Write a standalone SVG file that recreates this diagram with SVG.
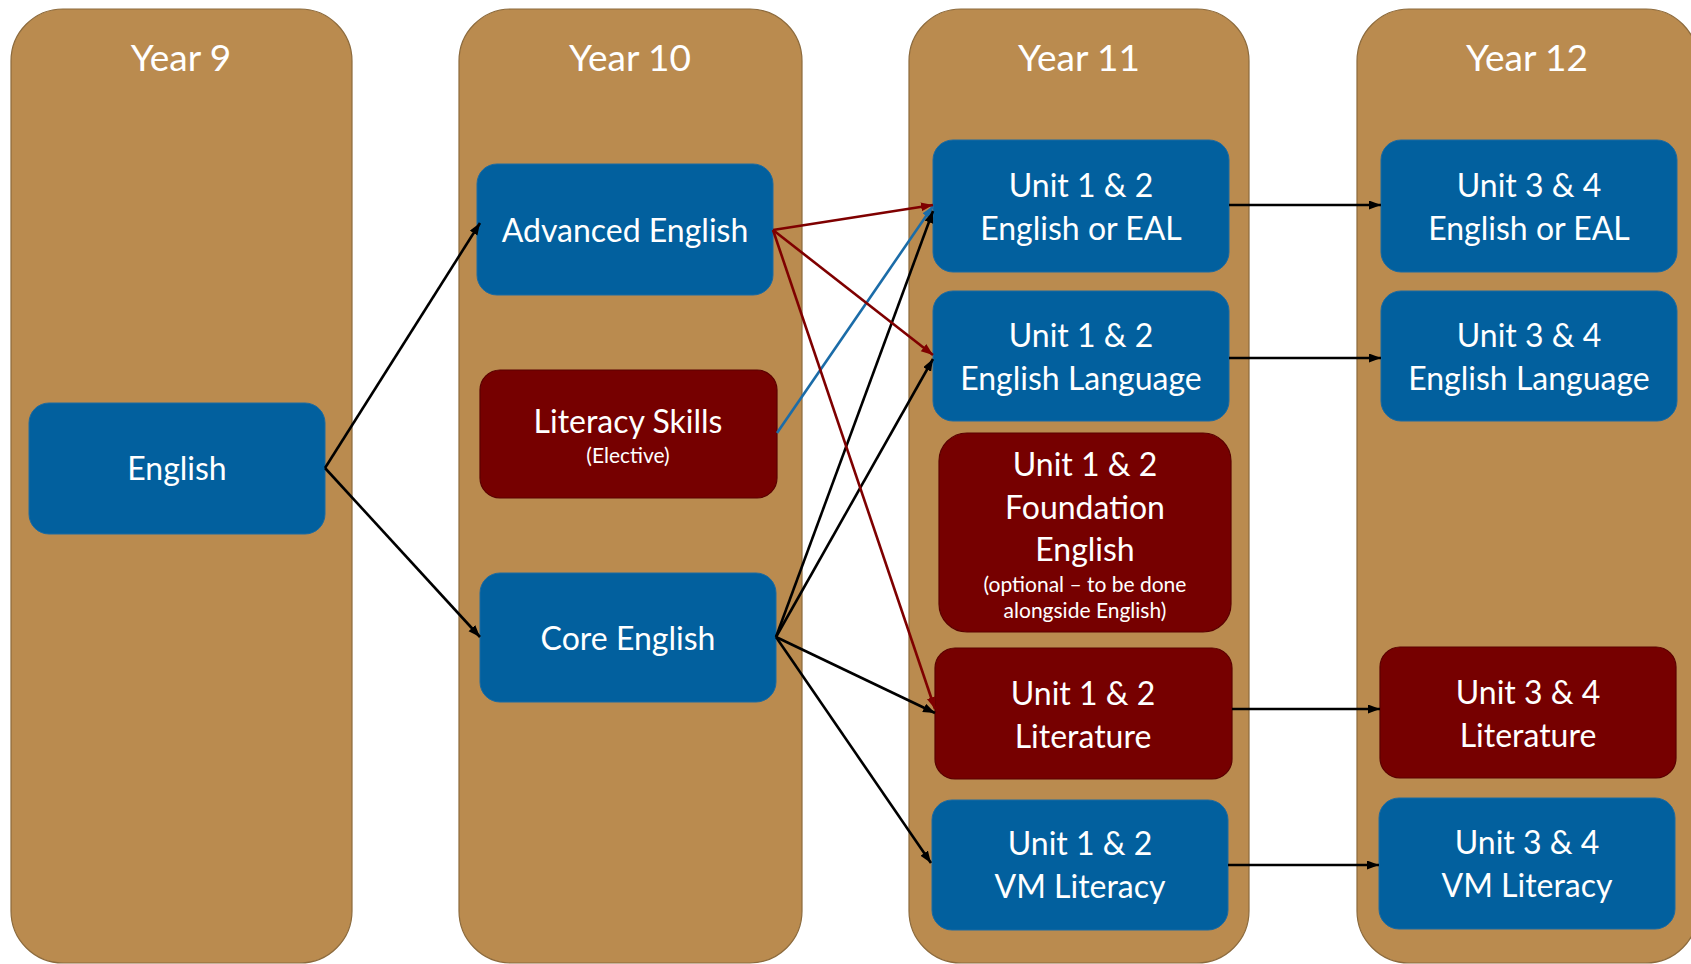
<svg xmlns="http://www.w3.org/2000/svg" width="1691" height="964" viewBox="0 0 1691 964">
<defs>
<style>
.col{fill:#BA8B4F;stroke:#8C6A3C;stroke-width:1.2}
.blue{fill:#02609E;stroke:#1A6AA3;stroke-width:1}
.red{fill:#760000;stroke:#5A0000;stroke-width:1.2}
.yr{font-family:Lato,"Liberation Sans",sans-serif;font-size:37px;fill:#fff;text-anchor:middle}
.t{font-family:Lato,"Liberation Sans",sans-serif;font-size:32px;fill:#fff;text-anchor:middle}
.s{font-family:Lato,"Liberation Sans",sans-serif;font-size:21px;fill:#fff;text-anchor:middle}
.k{stroke:#000;stroke-width:2.6;fill:none}
.r{stroke:#7F0000;stroke-width:2.6;fill:none}
.b{stroke:#1B6CA8;stroke-width:2.6;fill:none}
</style>
<marker id="ak" markerUnits="userSpaceOnUse" markerWidth="13" markerHeight="10" refX="12" refY="4.5" orient="auto"><path d="M0,0 L12,4.5 L0,9 z" fill="#000"/></marker>
<marker id="ar" markerUnits="userSpaceOnUse" markerWidth="13" markerHeight="10" refX="12" refY="4.5" orient="auto"><path d="M0,0 L12,4.5 L0,9 z" fill="#7F0000"/></marker>
<marker id="ab" markerUnits="userSpaceOnUse" markerWidth="13" markerHeight="10" refX="12" refY="4.5" orient="auto"><path d="M0,0 L12,4.5 L0,9 z" fill="#1B6CA8"/></marker>
</defs>

<g id="col-year9"><rect class="col" x="11" y="9" width="341" height="954" rx="52"/><text class="yr" x="181" y="71">Year 9</text></g>
<g id="col-year10"><rect class="col" x="459" y="9" width="343" height="954" rx="52"/><text class="yr" x="630" y="71">Year 10</text></g>
<g id="col-year11"><rect class="col" x="909" y="9" width="340" height="954" rx="52"/><text class="yr" x="1079" y="71">Year 11</text></g>
<g id="col-year12"><rect class="col" x="1357" y="9" width="341" height="954" rx="52"/><text class="yr" x="1527" y="71">Year 12</text></g>

<g id="n-english"><rect class="blue" x="29" y="403" width="296" height="131" rx="20"/><text class="t" x="177" y="480">English</text></g>
<g id="n-advanced"><rect class="blue" x="477" y="164" width="296" height="131" rx="20"/><text class="t" x="625" y="242">Advanced English</text></g>
<g id="n-literacy"><rect class="red" x="480" y="370" width="297" height="128" rx="20"/><text class="t" x="628" y="433">Literacy Skills</text><text class="s" x="628" y="463">(Elective)</text></g>
<g id="n-core"><rect class="blue" x="480" y="573" width="296" height="129" rx="20"/><text class="t" x="628" y="650">Core English</text></g>

<g id="n-u12-eal"><rect class="blue" x="933" y="140" width="296" height="132" rx="20"/><text class="t" x="1081" y="197">Unit 1 &amp; 2</text><text class="t" x="1081" y="240">English or EAL</text></g>
<g id="n-u12-lang"><rect class="blue" x="933" y="291" width="296" height="130" rx="20"/><text class="t" x="1081" y="347">Unit 1 &amp; 2</text><text class="t" x="1081" y="390">English Language</text></g>
<g id="n-u12-found"><rect class="red" x="939" y="433" width="292" height="199" rx="28"/><text class="t" x="1085" y="476">Unit 1 &amp; 2</text><text class="t" x="1085" y="519">Foundation</text><text class="t" x="1085" y="561">English</text><text class="s" x="1085" y="592">(optional – to be done</text><text class="s" x="1085" y="618">alongside English)</text></g>
<g id="n-u12-lit"><rect class="red" x="935" y="648" width="297" height="131" rx="20"/><text class="t" x="1083" y="705">Unit 1 &amp; 2</text><text class="t" x="1083" y="748">Literature</text></g>
<g id="n-u12-vm"><rect class="blue" x="932" y="800" width="296" height="130" rx="20"/><text class="t" x="1080" y="855">Unit 1 &amp; 2</text><text class="t" x="1080" y="898">VM Literacy</text></g>

<g id="n-u34-eal"><rect class="blue" x="1381" y="140" width="296" height="132" rx="20"/><text class="t" x="1529" y="197">Unit 3 &amp; 4</text><text class="t" x="1529" y="240">English or EAL</text></g>
<g id="n-u34-lang"><rect class="blue" x="1381" y="291" width="296" height="130" rx="20"/><text class="t" x="1529" y="347">Unit 3 &amp; 4</text><text class="t" x="1529" y="390">English Language</text></g>
<g id="n-u34-lit"><rect class="red" x="1380" y="647" width="296" height="131" rx="20"/><text class="t" x="1528" y="704">Unit 3 &amp; 4</text><text class="t" x="1528" y="747">Literature</text></g>
<g id="n-u34-vm"><rect class="blue" x="1379" y="798" width="296" height="131" rx="20"/><text class="t" x="1527" y="854">Unit 3 &amp; 4</text><text class="t" x="1527" y="897">VM Literacy</text></g>

<g id="connectors">
<line class="k" x1="325" y1="468" x2="480" y2="223" marker-end="url(#ak)"/>
<line class="k" x1="325" y1="468" x2="480" y2="637" marker-end="url(#ak)"/>
<line class="b" x1="777" y1="433" x2="933" y2="206" marker-end="url(#ab)"/>
<line class="k" x1="776" y1="637" x2="933" y2="211" marker-end="url(#ak)"/>
<line class="k" x1="776" y1="637" x2="933" y2="359" marker-end="url(#ak)"/>
<line class="k" x1="776" y1="637" x2="935" y2="713" marker-end="url(#ak)"/>
<line class="k" x1="776" y1="637" x2="931" y2="863" marker-end="url(#ak)"/>
<line class="r" x1="773" y1="230" x2="933" y2="205" marker-end="url(#ar)"/>
<line class="r" x1="773" y1="230" x2="933" y2="355" marker-end="url(#ar)"/>
<line class="r" x1="773" y1="230" x2="935" y2="709" marker-end="url(#ar)"/>
<line class="k" x1="1229" y1="205" x2="1381" y2="205" marker-end="url(#ak)"/>
<line class="k" x1="1229" y1="358" x2="1381" y2="358" marker-end="url(#ak)"/>
<line class="k" x1="1232" y1="709" x2="1380" y2="709" marker-end="url(#ak)"/>
<line class="k" x1="1228" y1="865" x2="1379" y2="865" marker-end="url(#ak)"/>
</g>
</svg>
